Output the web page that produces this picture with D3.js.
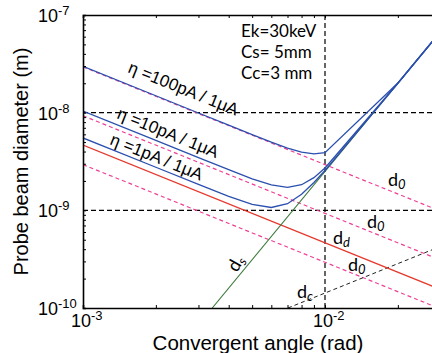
<!DOCTYPE html>
<html>
<head>
<meta charset="utf-8">
<script src="https://cdn.jsdelivr.net/npm/d3@7"></script>
<style>
  body { margin: 0; background: #fff; }
  svg { display: block; }
</style>
</head>
<body>
<div id="chart"></div>
<script>
// Probe beam diameter vs convergent angle (log-log)
var svgWidth = 432;
var svgHeight = 353;

var margin = { top: 15, right: 0, bottom: 45, left: 83 };
var chartWidth = 357;   // axis runs a bit past the right edge of the picture
var chartHeight = svgHeight - margin.top - margin.bottom;

// convergent angles (rad) where the total diameter curves were read
var alpha = [0.001, 0.002, 0.003, 0.004, 0.005, 0.006, 0.007, 0.008, 0.009, 0.01, 0.02, 0.03];
// total probe diameter (m) for each beam current
var eta100 = [2.98e-8, 1.49e-8, 9.92e-9, 7.44e-9, 5.96e-9, 4.99e-9, 4.34e-9, 3.94e-9, 3.78e-9, 3.89e-9, 2.01e-8, 6.75e-8];
var eta10 = [1.04e-8, 5.2e-9, 3.47e-9, 2.61e-9, 2.10e-9, 1.82e-9, 1.72e-9, 1.83e-9, 2.16e-9, 2.71e-9, 2.00e-8, 6.75e-8];
var eta1 = [5.51e-9, 2.76e-9, 1.84e-9, 1.39e-9, 1.15e-9, 1.07e-9, 1.17e-9, 1.46e-9, 1.93e-9, 2.56e-9, 2.00e-8, 6.75e-8];

// straight components (end points)
var dsAlpha = [0.00342, 0.03];
var dsVal = [1.0e-10, 6.75e-8];
var ddAlpha = [0.001, 0.03];
var ddVal = [4.66e-9, 1.55e-10];
var dcAlpha = [0.00703, 0.03];
var dcVal = [1.0e-10, 4.27e-10];
var d0Alpha = [0.001, 0.03];
var d0_100 = [2.94e-8, 9.8e-10];
var d0_10 = [9.3e-9, 3.1e-10];
var d0_1 = [2.94e-9, 9.8e-11];

// axis ticks
var xMajor = [1e-3, 1e-2];
var xMajorLabels = ["-3", "-2"];
var xMinor = [2e-3, 3e-3, 4e-3, 5e-3, 6e-3, 7e-3, 8e-3, 9e-3, 2e-2, 3e-2];
var yMajor = [1e-10, 1e-9, 1e-8, 1e-7];
var yMajorLabels = ["-10", "-9", "-8", "-7"];
var yMinor = [];
[1e-10, 1e-9, 1e-8].forEach(function(d) {
  [2, 3, 4, 5, 6, 7, 8, 9].forEach(function(m) { yMinor.push(d * m); });
});

var svg = d3.select("#chart")
  .append("svg")
  .attr("width", svgWidth)
  .attr("height", svgHeight);

var chartGroup = svg.append("g")
  .attr("transform", `translate(${margin.left}, ${margin.top})`);

var x = d3.scaleLog().domain([1e-3, 3e-2]).range([0, 242 * Math.log10(30)]);
var y = d3.scaleLog().domain([1e-10, 1e-7]).range([chartHeight, 0]);

svg.append("defs").append("clipPath").attr("id", "clip")
  .append("rect").attr("width", chartWidth).attr("height", chartHeight);

var plot = chartGroup.append("g").attr("clip-path", "url(#clip)");

// reference grid lines (dashed)
plot.selectAll(".hgrid")
  .data([1e-9, 1e-8])
  .join("line")
  .attr("x1", 0).attr("x2", chartWidth)
  .attr("y1", d => y(d)).attr("y2", d => y(d))
  .attr("stroke", "#000").attr("stroke-width", 1.2)
  .attr("stroke-dasharray", "5,3");
plot.append("line")
  .attr("x1", x(1e-2)).attr("x2", x(1e-2))
  .attr("y1", 0).attr("y2", chartHeight)
  .attr("stroke", "#000").attr("stroke-width", 1.2)
  .attr("stroke-dasharray", "5,3");

var line = d3.line().x(d => x(d[0])).y(d => y(d[1]));
function pairs(a, b) { return a.map((v, i) => [v, b[i]]); }

// source size d0 (pink dashed)
[d0_100, d0_10, d0_1].forEach(function(vals) {
  plot.append("path")
    .attr("d", line(pairs(d0Alpha, vals)))
    .attr("fill", "none").attr("stroke", "#ee3f96").attr("stroke-width", 1.2)
    .attr("stroke-dasharray", "4,3");
});

// chromatic dc (black dashed)
plot.append("path")
  .attr("d", line(pairs(dcAlpha, dcVal)))
  .attr("fill", "none").attr("stroke", "#222").attr("stroke-width", 1)
  .attr("stroke-dasharray", "4,3");

// diffraction dd (red)
plot.append("path")
  .attr("d", line(pairs(ddAlpha, ddVal)))
  .attr("fill", "none").attr("stroke", "#e53a2f").attr("stroke-width", 1.2);

// spherical ds (green)
plot.append("path")
  .attr("d", line(pairs(dsAlpha, dsVal)))
  .attr("fill", "none").attr("stroke", "#3c7a3c").attr("stroke-width", 1.1);

// totals (blue)
[eta100, eta10, eta1].forEach(function(vals) {
  plot.append("path")
    .attr("d", line(pairs(alpha, vals)))
    .attr("fill", "none").attr("stroke", "#2b4fae").attr("stroke-width", 1.3);
});

// axes
var bottomAxis = d3.axisBottom(x).tickValues(xMajor.concat(xMinor)).tickSize(-3).tickFormat("");
var topAxis = d3.axisTop(x).tickValues(xMajor.concat(xMinor)).tickSize(-3).tickFormat("");
var leftAxis = d3.axisLeft(y).tickValues(yMajor.concat(yMinor)).tickSize(-3).tickFormat("");

[
  chartGroup.append("g").attr("transform", `translate(0, ${chartHeight})`).call(bottomAxis),
  chartGroup.append("g").call(topAxis),
  chartGroup.append("g").call(leftAxis)
].forEach(function(g) {
  g.select(".domain").attr("stroke-width", 1.6);
  g.selectAll(".tick line").attr("stroke-width", 1);
});
chartGroup.selectAll(".domain").attr("stroke", "#000");

// tick labels with superscripts
var tickFont = "'Liberation Sans', Arial, sans-serif";
xMajor.forEach(function(d, i) {
  var t = chartGroup.append("text")
    .attr("x", x(d) - 12).attr("y", chartHeight + 19)
    .attr("font-family", tickFont).attr("font-size", "18px").attr("fill", "#000");
  t.append("tspan").text("10");
  t.append("tspan").attr("dy", -7).attr("font-size", "13px").text(xMajorLabels[i]);
});
yMajor.forEach(function(d, i) {
  var t = chartGroup.append("text")
    .attr("x", 38 - margin.left).attr("y", y(d) + 7)
    .attr("font-family", tickFont).attr("font-size", "18px").attr("fill", "#000");
  t.append("tspan").text("10");
  t.append("tspan").attr("dy", -7).attr("font-size", "13px").text(yMajorLabels[i]);
});

// axis titles
svg.append("text")
  .attr("x", 258).attr("y", 350)
  .attr("text-anchor", "middle")
  .attr("font-family", tickFont).attr("font-size", "20.5px")
  .text("Convergent angle (rad)");
svg.append("text")
  .attr("transform", `translate(28, ${margin.top + chartHeight / 2}) rotate(-90)`)
  .attr("text-anchor", "middle")
  .attr("font-family", tickFont).attr("font-size", "20px")
  .text("Probe beam diameter (m)");

// beam current labels along the lines
var ang = Math.atan((y(1e-9) - y(1e-8)) / (x(1e-2) - x(1e-3))) * 180 / Math.PI;
var etaLabels = [
  { text: "η =100pA / 1μA", x: 127, y: 72 },
  { text: "η =10pA / 1μA", x: 116, y: 118 },
  { text: "η =1pA / 1μA", x: 109, y: 144 }
];
etaLabels.forEach(function(l) {
  svg.append("text")
    .attr("transform", `translate(${l.x}, ${l.y}) rotate(${ang})`)
    .attr("font-family", tickFont).attr("font-size", "17px")
    .text(l.text);
});

// conditions
var noteFont = "Lato, 'Open Sans', sans-serif";
["Ek=30keV", "Cs= 5mm", "Cc=3 mm"].forEach(function(s, i) {
  svg.append("text")
    .attr("x", 241).attr("y", 37 + i * 21)
    .attr("font-family", noteFont).attr("font-size", "17px")
    .text(s);
});

// component labels
function dLabel(sub, px, py, rot) {
  var t = svg.append("text")
    .attr("transform", `translate(${px}, ${py}) rotate(${rot || 0})`)
    .attr("font-family", noteFont).attr("font-size", "18px");
  t.append("tspan").text("d");
  t.append("tspan").attr("dy", 3).attr("font-size", "13px").attr("font-style", "italic").text(sub);
}
dLabel("0", 388, 186);
dLabel("0", 367, 228);
dLabel("0", 348, 271);
dLabel("d", 333, 244);
dLabel("c", 297, 298);
dLabel("s", 237, 273, -60);
</script>
</body>
</html>
